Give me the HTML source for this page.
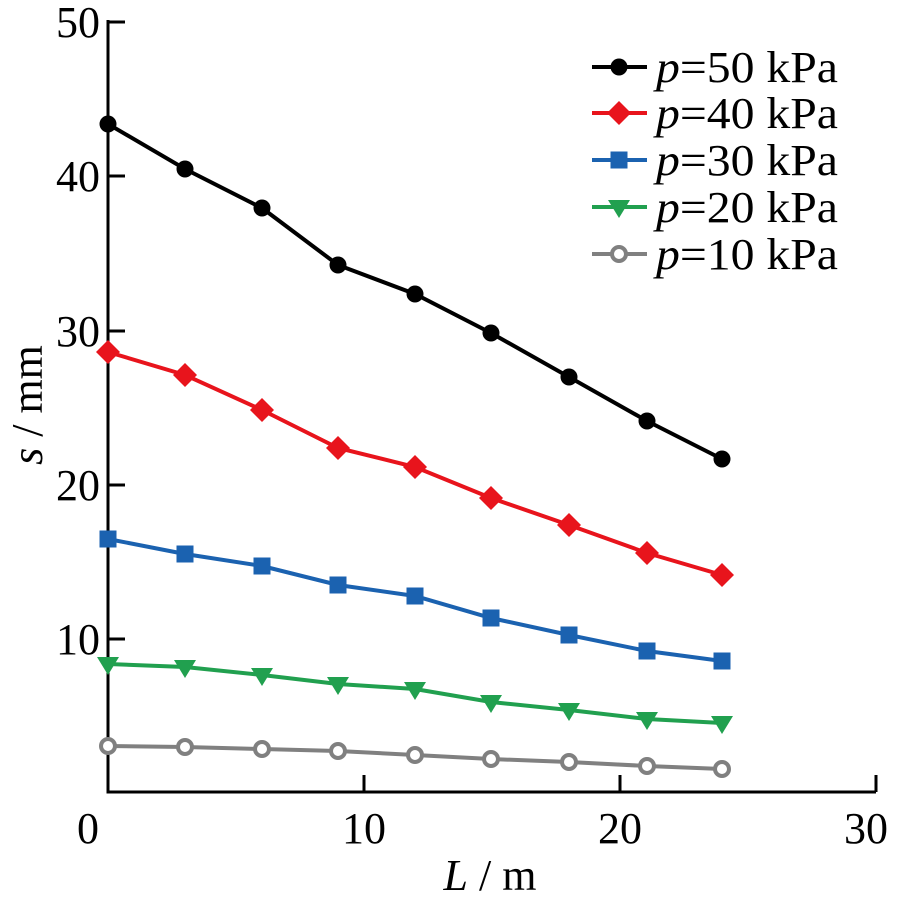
<!DOCTYPE html>
<html><head><meta charset="utf-8"><style>
body{margin:0;background:#fff}
text{font-family:"Liberation Serif",serif;fill:#000}
</style></head><body>
<svg width="898" height="900" xmlns="http://www.w3.org/2000/svg">
<g stroke="#000" stroke-width="3" fill="none">
<path d="M108,20 V792 H876"/>
<path d="M108,22 h17 M108,176 h17 M108,331 h17 M108,485 h17 M108,639 h17"/>
<path d="M364,792 v-17 M620,792 v-17 M876,792 v-17"/>
</g>
<g font-size="44" text-anchor="end">
<text x="100" y="37">50</text><text x="100" y="191">40</text><text x="100" y="346">30</text><text x="100" y="500">20</text><text x="100" y="654">10</text>
</g>
<g font-size="44" text-anchor="middle">
<text x="88" y="843">0</text><text x="364" y="843">10</text><text x="620" y="843">20</text><text x="866" y="843">30</text>
</g>
<text x="490" y="890" font-size="44" text-anchor="middle"><tspan font-style="italic">L</tspan> / m</text>
<text transform="translate(42,405) rotate(-90)" font-size="44" text-anchor="middle"><tspan font-style="italic">s</tspan> / mm</text>
<defs>
<circle id="mc" r="8.5" fill="#000"/>
<path id="md" d="M0,-12 L12,0 L0,12 L-12,0Z" fill="#e8141c"/>
<rect id="ms" x="-8.5" y="-8.5" width="17" height="17" fill="#1b62b0"/>
<path id="mt" d="M-11,-7 H11 L0,11Z" fill="#21a04f"/>
<circle id="mo" r="7" fill="#fff" stroke="#808080" stroke-width="4"/>
</defs>
<g fill="none" stroke-width="4">
<polyline stroke="#000" points="108,124 185,169 262,208 338,265 415,294 491,333 569,377 647,421 722,459"/>
<polyline stroke="#e8141c" points="108,352 185,375 262,410 338,448 415,467 491,498 569,525 647,553 722,575"/>
<polyline stroke="#1b62b0" points="108,539 185,554 262,566 338,585 415,596 491,618 569,635 647,651 722,661"/>
<polyline stroke="#21a04f" points="108,664 185,667 262,675 338,684 415,689 491,702 569,710 647,719 722,723"/>
<polyline stroke="#808080" points="108,746 185,747 262,749 338,751 415,755 491,759 569,762 647,766 722,769"/>
</g>
<g>
<use href="#mc" x="108" y="124"/><use href="#mc" x="185" y="169"/><use href="#mc" x="262" y="208"/><use href="#mc" x="338" y="265"/><use href="#mc" x="415" y="294"/><use href="#mc" x="491" y="333"/><use href="#mc" x="569" y="377"/><use href="#mc" x="647" y="421"/><use href="#mc" x="722" y="459"/>
<use href="#md" x="108" y="352"/><use href="#md" x="185" y="375"/><use href="#md" x="262" y="410"/><use href="#md" x="338" y="448"/><use href="#md" x="415" y="467"/><use href="#md" x="491" y="498"/><use href="#md" x="569" y="525"/><use href="#md" x="647" y="553"/><use href="#md" x="722" y="575"/>
<use href="#ms" x="108" y="539"/><use href="#ms" x="185" y="554"/><use href="#ms" x="262" y="566"/><use href="#ms" x="338" y="585"/><use href="#ms" x="415" y="596"/><use href="#ms" x="491" y="618"/><use href="#ms" x="569" y="635"/><use href="#ms" x="647" y="651"/><use href="#ms" x="722" y="661"/>
<use href="#mt" x="108" y="664"/><use href="#mt" x="185" y="667"/><use href="#mt" x="262" y="675"/><use href="#mt" x="338" y="684"/><use href="#mt" x="415" y="689"/><use href="#mt" x="491" y="702"/><use href="#mt" x="569" y="710"/><use href="#mt" x="647" y="719"/><use href="#mt" x="722" y="723"/>
<use href="#mo" x="108" y="746"/><use href="#mo" x="185" y="747"/><use href="#mo" x="262" y="749"/><use href="#mo" x="338" y="751"/><use href="#mo" x="415" y="755"/><use href="#mo" x="491" y="759"/><use href="#mo" x="569" y="762"/><use href="#mo" x="647" y="766"/><use href="#mo" x="722" y="769"/>
</g>
<g stroke-width="4">
<line x1="592" y1="67" x2="647" y2="67" stroke="#000"/>
<line x1="592" y1="113" x2="647" y2="113" stroke="#e8141c"/>
<line x1="592" y1="160" x2="647" y2="160" stroke="#1b62b0"/>
<line x1="592" y1="207" x2="647" y2="207" stroke="#21a04f"/>
<line x1="592" y1="254" x2="647" y2="254" stroke="#808080"/>
</g>
<use href="#mc" x="619" y="67"/><use href="#md" x="619" y="113"/><use href="#ms" x="619" y="160"/><use href="#mt" x="619" y="207"/><use href="#mo" x="619" y="254"/>
<g font-size="44">
<text x="656" y="82" textLength="182" lengthAdjust="spacingAndGlyphs"><tspan font-style="italic">p</tspan>=50 kPa</text>
<text x="656" y="128" textLength="182" lengthAdjust="spacingAndGlyphs"><tspan font-style="italic">p</tspan>=40 kPa</text>
<text x="656" y="175" textLength="182" lengthAdjust="spacingAndGlyphs"><tspan font-style="italic">p</tspan>=30 kPa</text>
<text x="656" y="222" textLength="182" lengthAdjust="spacingAndGlyphs"><tspan font-style="italic">p</tspan>=20 kPa</text>
<text x="656" y="269" textLength="182" lengthAdjust="spacingAndGlyphs"><tspan font-style="italic">p</tspan>=10 kPa</text>
</g>
</svg>
</body></html>
